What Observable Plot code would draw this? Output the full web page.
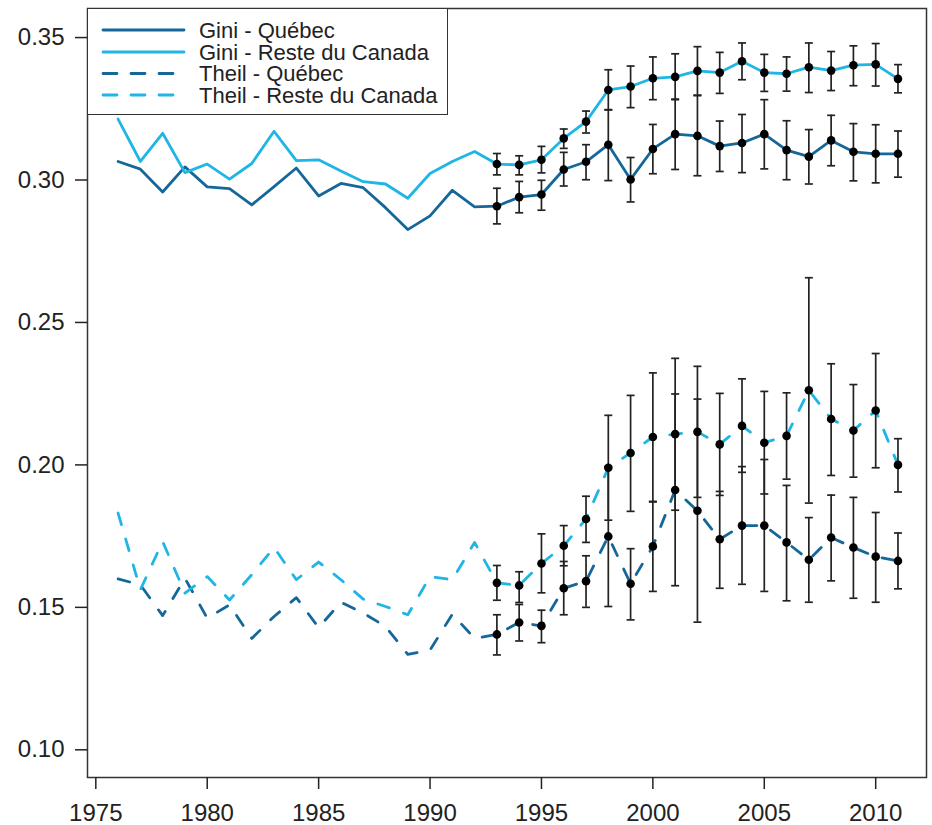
<!DOCTYPE html>
<html>
<head>
<meta charset="utf-8">
<script src="https://cdn.jsdelivr.net/npm/d3@7"></script>
<script src="https://cdn.jsdelivr.net/npm/@observablehq/plot@0.6"></script>
<style>
  html, body { margin: 0; padding: 0; background: #fff; }
  #wrap { position: relative; width: 932px; height: 825px; }
  #legend { position: absolute; left: 87px; top: 8px; width: 361px; height: 107px;
    background: #fff; border: 1.5px solid #333; box-sizing: border-box;
    font-family: "Liberation Sans", Arial, sans-serif; font-size: 22px; color: #222; }
  #legend svg { position: absolute; left: 0; top: 0; }
</style>
</head>
<body>
<div id="wrap"><div id="legend"></div></div>
<script>
// ---- data ----
const years = d3.range(1976, 2012);
const errYears = d3.range(1993, 2012);

const giniQuebec = [0.3065, 0.3038, 0.2958, 0.3046, 0.2976, 0.2970, 0.2913, 0.2977, 0.3042, 0.2944,
  0.2988, 0.2973, 0.2903, 0.2826, 0.2874, 0.2964, 0.2906, 0.2908, 0.2940, 0.2949,
  0.3037, 0.3064, 0.3124, 0.3002, 0.3109, 0.3161, 0.3155, 0.3119, 0.3130, 0.3161,
  0.3105, 0.3082, 0.3139, 0.3099, 0.3092, 0.3092];
const giniQuebecLo = [0.2846, 0.2885, 0.2894, 0.2979, 0.3001, 0.2998, 0.2923, 0.3022, 0.3037, 0.3015,
  0.3030, 0.3026, 0.3039, 0.3001, 0.2986, 0.3050, 0.2997, 0.2990, 0.3010];
const giniQuebecHi = [0.2971, 0.2995, 0.2999, 0.3097, 0.3124, 0.3247, 0.3079, 0.3195, 0.3284, 0.3296,
  0.3207, 0.3230, 0.3282, 0.3208, 0.3177, 0.3227, 0.3198, 0.3194, 0.3172];

const giniRoc = [0.3214, 0.3065, 0.3164, 0.3026, 0.3056, 0.3003, 0.3058, 0.3171, 0.3068, 0.3071,
  0.3032, 0.2994, 0.2986, 0.2936, 0.3023, 0.3065, 0.3100, 0.3056, 0.3053, 0.3071,
  0.3146, 0.3205, 0.3316, 0.3328, 0.3357, 0.3362, 0.3383, 0.3377, 0.3417, 0.3377,
  0.3373, 0.3396, 0.3384, 0.3403, 0.3406, 0.3355];
const giniRocLo = [0.3018, 0.3018, 0.3025, 0.3111, 0.3165, 0.3246, 0.3254, 0.3282, 0.3282, 0.3298,
  0.3304, 0.3352, 0.3311, 0.3312, 0.3307, 0.3314, 0.3331, 0.3330, 0.3306];
const giniRocHi = [0.3093, 0.3085, 0.3118, 0.3179, 0.3242, 0.3387, 0.3400, 0.3432, 0.3443, 0.3468,
  0.3448, 0.3481, 0.3441, 0.3432, 0.3481, 0.3451, 0.3471, 0.3479, 0.3405];

const theilQuebec = [0.1600, 0.1579, 0.1471, 0.1602, 0.1462, 0.1509, 0.1391, 0.1468, 0.1534, 0.1429,
  0.1518, 0.1480, 0.1433, 0.1335, 0.1350, 0.1476, 0.1391, 0.1405, 0.1447, 0.1435,
  0.1567, 0.1592, 0.1749, 0.1583, 0.1714, 0.1912, 0.1839, 0.1739, 0.1787, 0.1787,
  0.1728, 0.1667, 0.1745, 0.1710, 0.1678, 0.1663];
const theilQuebecLo = [0.1333, 0.1382, 0.1376, 0.1474, 0.1500, 0.1503, 0.1456, 0.1556, 0.1576, 0.1448,
  0.1567, 0.1581, 0.1556, 0.1523, 0.1518, 0.1593, 0.1532, 0.1518, 0.1565];
const theilQuebecHi = [0.1474, 0.1510, 0.1490, 0.1661, 0.1681, 0.1995, 0.1706, 0.1872, 0.2249, 0.2231,
  0.1907, 0.1994, 0.2019, 0.1928, 0.1815, 0.1894, 0.1886, 0.1833, 0.1761];

const theilRoc = [0.1831, 0.1562, 0.1731, 0.1550, 0.1608, 0.1526, 0.1615, 0.1710, 0.1597, 0.1659,
  0.1597, 0.1529, 0.1503, 0.1474, 0.1608, 0.1597, 0.1728, 0.1586, 0.1577, 0.1654,
  0.1716, 0.1810, 0.1990, 0.2042, 0.2098, 0.2108, 0.2116, 0.2072, 0.2137, 0.2078,
  0.2102, 0.2262, 0.2161, 0.2121, 0.2191, 0.2000];
const theilRocLo = [0.1525, 0.1517, 0.1551, 0.1646, 0.1728, 0.1806, 0.1837, 0.1870, 0.1841, 0.1886,
  0.1893, 0.1974, 0.1898, 0.1950, 0.1866, 0.1963, 0.1957, 0.1990, 0.1905];
const theilRocHi = [0.1647, 0.1625, 0.1758, 0.1787, 0.1890, 0.2174, 0.2244, 0.2323, 0.2374, 0.2346,
  0.2251, 0.2302, 0.2258, 0.2253, 0.2657, 0.2355, 0.2282, 0.2391, 0.2092];

const seriesNames = ["Gini - Québec", "Gini - Reste du Canada", "Theil - Québec", "Theil - Reste du Canada"];
const xTicks = [1975, 1980, 1985, 1990, 1995, 2000, 2005, 2010];
const yTicks = [0.10, 0.15, 0.20, 0.25, 0.30, 0.35];

// ---- styles ----
const darkBlue = "#15679a";
const lightBlue = "#1fb5e5";
const seriesStyle = [
  {color: darkBlue, dash: null},
  {color: lightBlue, dash: null},
  {color: darkBlue, dash: "12,15"},
  {color: lightBlue, dash: "12,15"}
];

const seriesValues = [giniQuebec, giniRoc, theilQuebec, theilRoc];
const seriesLo = [giniQuebecLo, giniRocLo, theilQuebecLo, theilRocLo];
const seriesHi = [giniQuebecHi, giniRocHi, theilQuebecHi, theilRocHi];

const lines = seriesNames.map((name, i) => years.map((yr, j) => ({year: yr, value: seriesValues[i][j], series: name})));
const errs = seriesNames.flatMap((name, i) => errYears.map((yr, j) => ({
  year: yr, lo: seriesLo[i][j], hi: seriesHi[i][j],
  value: seriesValues[i][years.indexOf(yr)], series: name
})));

const capSymbol = {
  draw(context, size) {
    const w = Math.sqrt(size / Math.PI);
    context.moveTo(-w, 0);
    context.lineTo(w, 0);
  }
};

const marks = [];
lines.forEach((data, i) => {
  marks.push(Plot.line(data, {
    x: "year", y: "value", stroke: seriesStyle[i].color, strokeWidth: 2.8,
    strokeDasharray: seriesStyle[i].dash || undefined, strokeLinecap: "round", strokeLinejoin: "round"
  }));
});
marks.push(Plot.ruleX(errs, {x: "year", y1: "lo", y2: "hi", stroke: "#222", strokeWidth: 1.7}));
marks.push(Plot.dot(errs, {x: "year", y: "lo", symbol: capSymbol, r: 4, stroke: "#222", strokeWidth: 1.7, fill: "none"}));
marks.push(Plot.dot(errs, {x: "year", y: "hi", symbol: capSymbol, r: 4, stroke: "#222", strokeWidth: 1.7, fill: "none"}));
marks.push(Plot.dot(errs, {x: "year", y: "value", r: 4.3, fill: "#000", stroke: "none"}));
marks.push(Plot.frame({stroke: "#333", strokeWidth: 1.5}));
marks.push(Plot.axisX({ticks: xTicks, tickFormat: d => String(d), label: null, tickSize: 12, tickPadding: 14, strokeWidth: 1.5, fontSize: 24, color: "#222"}));
marks.push(Plot.axisY({ticks: yTicks, tickFormat: d3.format(".2f"), label: null, tickSize: 12, tickPadding: 11, strokeWidth: 1.5, fontSize: 24, color: "#222"}));

const chart = Plot.plot({
  width: 932,
  height: 825,
  marginLeft: 87,
  marginRight: 6,
  marginTop: 8,
  marginBottom: 48,
  style: {fontFamily: "'Liberation Sans', Arial, sans-serif", color: "#222", background: "#fff", overflow: "visible"},
  x: {domain: [1974.627, 2012.28], label: null},
  y: {domain: [0.09028, 0.3602], label: null},
  marks
});
document.getElementById("wrap").insertBefore(chart, document.getElementById("legend"));

// ---- legend (overlaid inside the plot frame, top-left) ----
const legend = document.getElementById("legend");
const rowY = [21, 43, 64.5, 86];
const ns = "http://www.w3.org/2000/svg";
const lsvg = document.createElementNS(ns, "svg");
lsvg.setAttribute("width", 361);
lsvg.setAttribute("height", 107);
seriesNames.forEach((name, i) => {
  const ln = document.createElementNS(ns, "line");
  ln.setAttribute("x1", 15); ln.setAttribute("x2", 96);
  ln.setAttribute("y1", rowY[i]); ln.setAttribute("y2", rowY[i]);
  ln.setAttribute("stroke", seriesStyle[i].color);
  ln.setAttribute("stroke-width", 2.8);
  ln.setAttribute("stroke-linecap", "round");
  if (seriesStyle[i].dash) ln.setAttribute("stroke-dasharray", "14,14");
  lsvg.appendChild(ln);
  const tx = document.createElementNS(ns, "text");
  tx.setAttribute("x", 111);
  tx.setAttribute("y", rowY[i]);
  tx.setAttribute("dy", "0.35em");
  tx.setAttribute("fill", "#222");
  tx.textContent = name;
  lsvg.appendChild(tx);
});
legend.appendChild(lsvg);
</script>
</body>
</html>
